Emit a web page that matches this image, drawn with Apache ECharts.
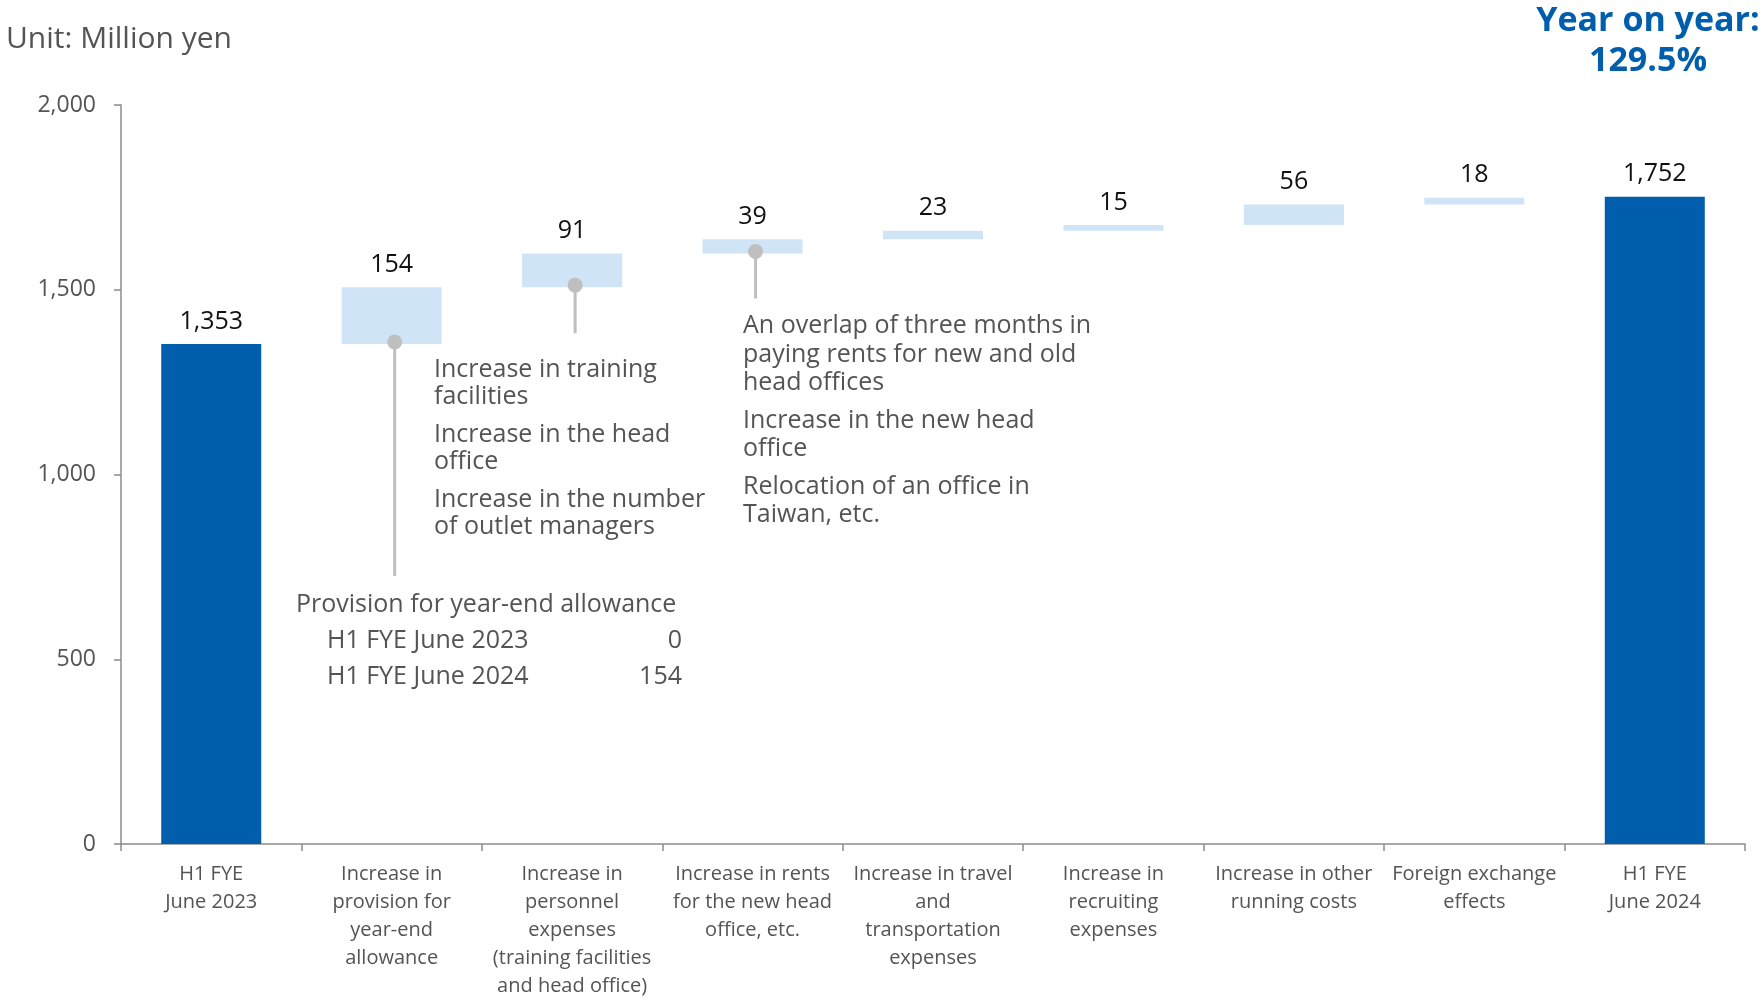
<!DOCTYPE html>
<html>
<head>
<meta charset="utf-8">
<script src="https://cdn.jsdelivr.net/npm/echarts@6/dist/echarts.min.js"></script>
<style>
  html, body { margin: 0; padding: 0; background: #fff; }
  #chart { width: 1763px; height: 1001px; }
</style>
</head>
<body>
<div id="chart"></div>
<script>
// Cost bridge, H1 FYE June 2023 -> H1 FYE June 2024 (million yen)
const categories = [
  'H1 FYE\nJune 2023',
  'Increase in\nprovision for\nyear-end\nallowance',
  'Increase in\npersonnel\nexpenses\n(training facilities\nand head office)',
  'Increase in rents\nfor the new head\noffice, etc.',
  'Increase in travel\nand\ntransportation\nexpenses',
  'Increase in\nrecruiting\nexpenses',
  'Increase in other\nrunning costs',
  'Foreign exchange\neffects',
  'H1 FYE\nJune 2024'
];
const startTotal = 1353;
const increments = [154, 91, 39, 23, 15, 56, 18];
const endTotal = 1752;
const yTickValues = [0, 500, 1000, 1500, 2000];
const yearOnYear = '129.5%';
const provisionRows = [['H1 FYE June 2023', 0], ['H1 FYE June 2024', 154]];

const DARK = '#005EAD';
const LIGHT = '#CFE4F7';
const GREY_TEXT = '#545454';
const FONT = '"Open Sans", "Noto Sans", sans-serif';

// visible bar heights and invisible offsets for the waterfall
const heights = [startTotal, ...increments, endTotal];
const offsets = [0];
let running = startTotal;
increments.forEach(v => { offsets.push(running); running += v; });
offsets.push(0);

const fmt = v => Number(v).toLocaleString('en-US');

// leader lines hang from the bottom of selected increment bars
const leaders = [
  { cat: 1, length: 236 },
  { cat: 2, length: 50 },
  { cat: 3, length: 49 }
];

// explanatory text blocks
function textBlock(x, firstCenter, linePitch, itemGap, items) {
  const out = [];
  let y = firstCenter;
  items.forEach((lines, i) => {
    if (i > 0) y += itemGap;
    lines.forEach(line => {
      out.push(txt(line, x, y, 'left', 25, GREY_TEXT));
      y += linePitch;
    });
  });
  return out;
}
function txt(text, x, y, align, size, color, weight) {
  return {
    type: 'text', x: x, y: y, silent: true, z: 10,
    style: {
      text: text,
      font: (weight || 'normal') + ' ' + size + 'px ' + FONT,
      fill: color,
      align: align, verticalAlign: 'middle',
      textAlign: align, textVerticalAlign: 'middle'
    }
  };
}

const graphics = [
  txt('Unit: Million yen', 6, 39, 'left', 30, GREY_TEXT),
  txt('Year on year:', 1648, 21, 'center', 34, DARK, 'bold'),
  txt(yearOnYear, 1648, 61, 'center', 34, DARK, 'bold'),
  ...textBlock(434, 369.5, 27.7, 9.6, [
    ['Increase in training', 'facilities'],
    ['Increase in the head', 'office'],
    ['Increase in the number', 'of outlet managers']
  ]),
  ...textBlock(743, 326.3, 28.3, 9.4, [
    ['An overlap of three months in', 'paying rents for new and old', 'head offices'],
    ['Increase in the new head', 'office'],
    ['Relocation of an office in', 'Taiwan, etc.']
  ]),
  txt('Provision for year-end allowance', 296, 604.6, 'left', 25, GREY_TEXT)
];
provisionRows.forEach((row, i) => {
  const y = 641.3 + i * 36;
  graphics.push(txt(row[0], 327, y, 'left', 25, GREY_TEXT));
  graphics.push(txt(fmt(row[1]), 682, y, 'right', 25, GREY_TEXT));
});

const chart = echarts.init(document.getElementById('chart'), null, { renderer: 'canvas' });
chart.setOption({
  animation: false,
  backgroundColor: '#fff',
  textStyle: { fontFamily: FONT },
  grid: { left: 121, right: 18, top: 105, bottom: 157, containLabel: false },
  xAxis: {
    type: 'category',
    data: categories,
    axisLine: { lineStyle: { color: '#8C8C8C', width: 1.5 } },
    axisTick: { show: true, length: 7, lineStyle: { color: '#8C8C8C', width: 1.5 } },
    axisLabel: {
      interval: 0, margin: 16, color: GREY_TEXT,
      fontSize: 20, lineHeight: 28, fontFamily: FONT
    }
  },
  yAxis: {
    type: 'value',
    min: yTickValues[0],
    max: yTickValues[yTickValues.length - 1],
    interval: yTickValues[1] - yTickValues[0],
    splitLine: { show: false },
    axisLine: { show: true, lineStyle: { color: '#8C8C8C', width: 1.5 } },
    axisTick: { show: true, length: 7, lineStyle: { color: '#8C8C8C', width: 1.5 } },
    axisLabel: { color: GREY_TEXT, fontSize: 23, margin: 25, fontFamily: FONT, formatter: fmt }
  },
  series: [
    {
      name: 'offset', type: 'bar', stack: 'bridge', barWidth: 100,
      itemStyle: { color: 'transparent' },
      emphasis: { disabled: true },
      data: offsets
    },
    {
      name: 'amount', type: 'bar', stack: 'bridge', barWidth: 100,
      data: heights.map((v, i) => ({
        value: v,
        itemStyle: { color: (i === 0 || i === heights.length - 1) ? DARK : LIGHT }
      })),
      label: {
        show: true, position: 'top', distance: 10,
        color: '#111', fontSize: 25, fontFamily: FONT,
        formatter: p => fmt(p.value)
      }
    },
    {
      name: 'leaders', type: 'custom', z: 5,
      data: leaders.map(l => [l.cat, offsets[l.cat]]),
      encode: { x: 0, y: 1 },
      renderItem: (params, api) => {
        const p = api.coord([api.value(0), api.value(1)]);
        const x = p[0] + 3;
        const len = leaders[params.dataIndex].length;
        return {
          type: 'group',
          children: [
            { type: 'line', shape: { x1: x, y1: p[1] - 4, x2: x, y2: p[1] - 4 + len },
              style: { stroke: '#BFBFBF', lineWidth: 3 } },
            { type: 'circle', shape: { cx: x, cy: p[1] - 2, r: 7.5 },
              style: { fill: '#BFBFBF' } }
          ]
        };
      }
    }
  ],
  graphic: graphics
});
</script>
</body>
</html>
